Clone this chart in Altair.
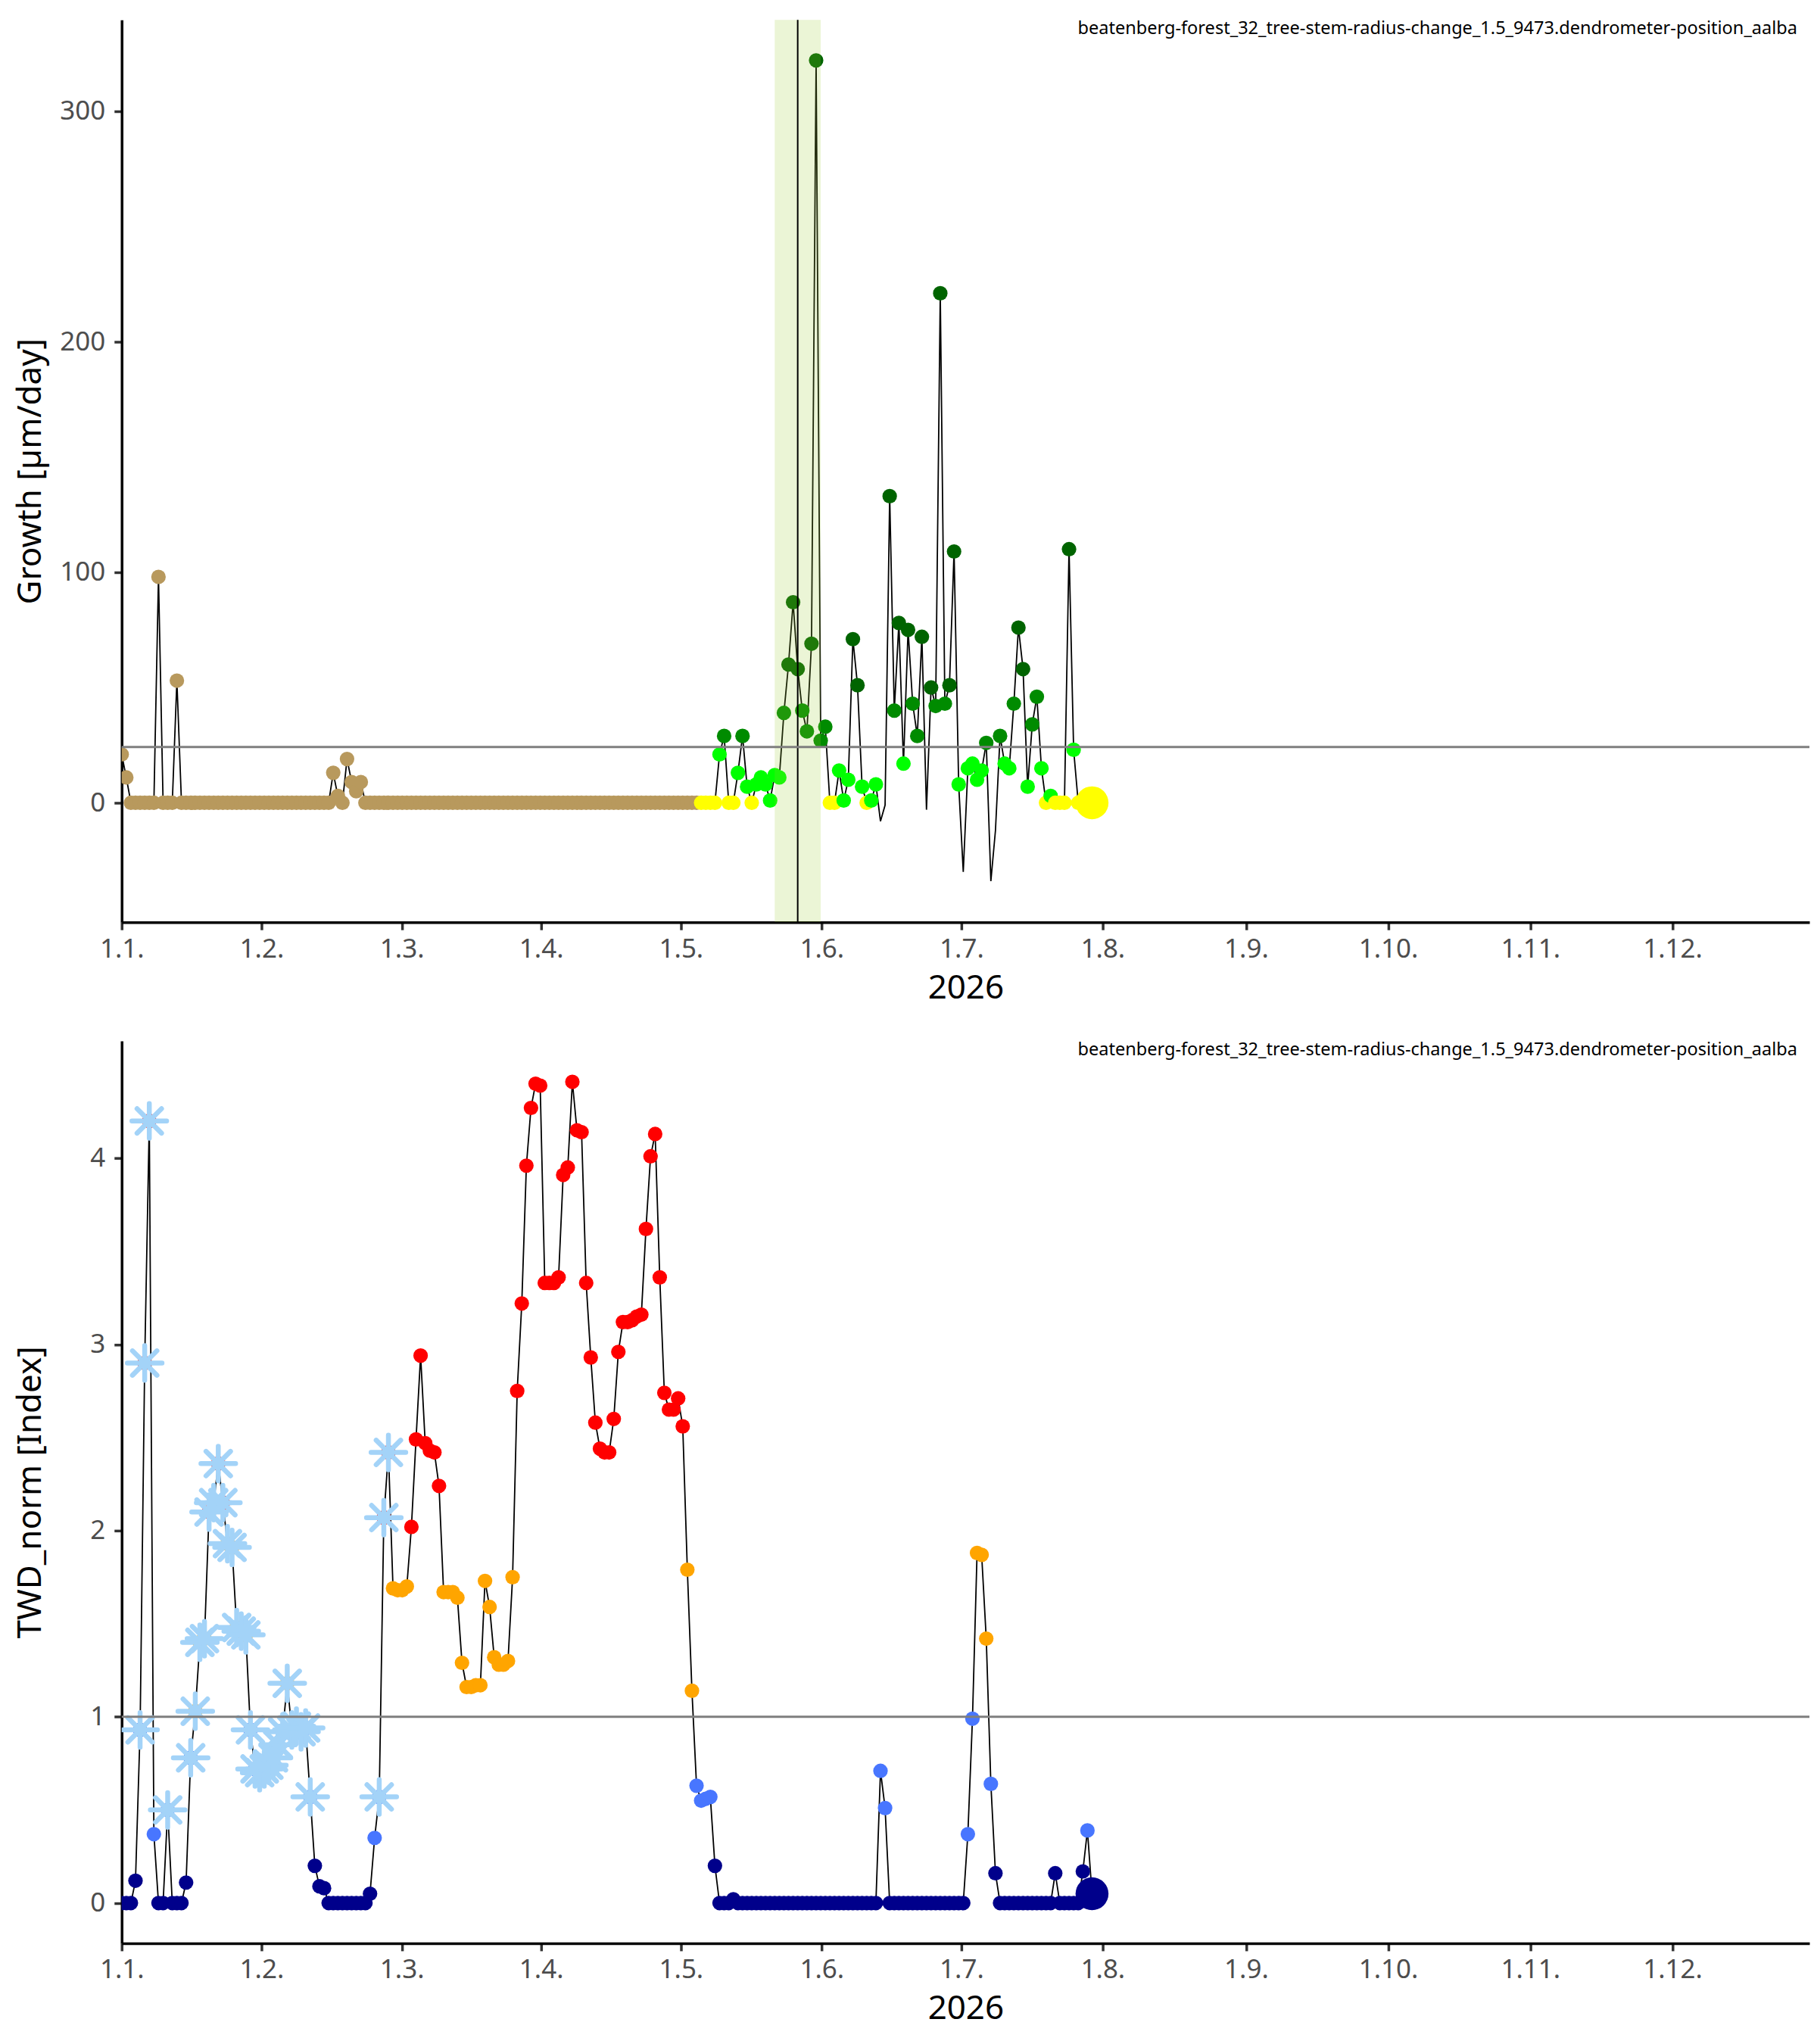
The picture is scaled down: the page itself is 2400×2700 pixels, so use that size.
import altair as alt
import pandas as pd

# ---------------- data ----------------
n_days = 212  # 1 Jan .. 31 Jul, daily
days = list(range(n_days))

growth = (
    [21, 11, 0, 0, 0, 0, 0, 0, 98, 0, 0, 0, 53]
    + [0] * 33
    + [13, 3, 0, 19, 9, 5, 9]
    + [0] * 73
    + [0, 0, 0, 0]
    + [21, 29, 0, 0, 13, 29, 7, 0, 8, 11, 8, 1, 12, 11,
       39, 60, 87, 58, 40, 31, 69, 322, 27, 33, 0, 0, 14, 1, 10, 71,
       51, 7, 0, 1, 8, -8, -1, 133, 40, 78, 17, 75, 43, 29, 72, -3,
       50, 42, 221, 43, 51, 109, 8, -30, 15, 17, 10, 14, 26, -34, -12,
       29, 17, 15, 43, 76, 58, 7, 34, 46, 15, 0, 3, 0, 0, 0, 110, 23,
       0, 0, 0, 0]
)

twd = (
    [0, 0, 0, 0.12, 0.93, 2.90, 4.20, 0.37, 0, 0, 0.50, 0, 0, 0, 0.11,
     0.78, 1.03, 1.40, 1.42, 2.10, 2.15, 2.36, 2.15, 1.93, 1.91, 1.48,
     1.46, 1.44, 0.93, 0.72, 0.70, 0.72, 0.74, 0.78, 0.85, 0.92, 1.18,
     0.93, 0.95, 0.92, 0.94, 0.57, 0.20, 0.09, 0.08]
    + [0] * 9
    + [0.05, 0.35, 0.57, 2.07, 2.42, 1.69, 1.68, 1.68, 1.70, 2.02, 2.49,
       2.94, 2.47, 2.43, 2.42, 2.24, 1.67, 1.67, 1.67, 1.64, 1.29, 1.16,
       1.16, 1.17, 1.17, 1.73, 1.59, 1.32, 1.28, 1.28, 1.30, 1.75, 2.75,
       3.22, 3.96, 4.27, 4.40, 4.39, 3.33, 3.33, 3.33, 3.36, 3.91, 3.95,
       4.41, 4.15, 4.14, 3.33, 2.93, 2.58, 2.44, 2.42, 2.42, 2.60, 2.96,
       3.12, 3.12, 3.13, 3.15, 3.16, 3.62, 4.01, 4.13, 3.36, 2.74, 2.65,
       2.65, 2.71, 2.56, 1.79, 1.14, 0.63, 0.55, 0.56, 0.57, 0.20,
       0, 0, 0, 0.02]
    + [0] * 31
    + [0.71, 0.51]
    + [0] * 17
    + [0.37, 0.99, 1.88, 1.87, 1.42, 0.64, 0.16]
    + [0] * 12
    + [0.16]
    + [0] * 5
    + [0.17, 0.39, 0.05]
)

frost_days = [4, 5, 6, 10] + list(range(15, 42)) + [56, 57, 58]
dormant_end = 125

growth_thresh = 24.2
twd_thresh = 1.0
window_start, window_end, window_mid = 142, 152, 147

tick_days = [0, 30.4, 60.9, 91.2, 121.6, 152.2, 182.6, 213.3, 244.5, 275.4, 306.3, 337.2]
tick_labels = ["1.1.", "1.2.", "1.3.", "1.4.", "1.5.", "1.6.", "1.7.", "1.8.",
               "1.9.", "1.10.", "1.11.", "1.12."]

source_label = "beatenberg-forest_32_tree-stem-radius-change_1.5_9473.dendrometer-position_aalba"

# ---------------- tables ----------------
def gcat(d, v):
    if v < 0:
        return None
    if d <= dormant_end:
        return "dormant"
    if v == 0:
        return "zero"
    if v < 24:
        return "low"
    if v < 48:
        return "mid"
    return "high"


def tcat(v):
    if v < 0.3:
        return "none"
    if v < 1:
        return "low"
    if v < 2:
        return "mid"
    return "high"


gdf = pd.DataFrame({"day": days, "growth": growth})
gdf["gcat"] = [gcat(d, v) for d, v in zip(days, growth)]
gpts = gdf[gdf["gcat"].notna()]
glast = gdf.tail(1)

tdf = pd.DataFrame({"day": days, "twd": twd})
tdf["tcat"] = [tcat(v) for v in twd]
tfrost = tdf[tdf["day"].isin(frost_days)]
tlast = tdf.tail(1)

W, H = 2233, 1194
FONT = "Noto Sans"
PT = 370
BIG = 1900

label_expr = "".join(
    f"datum.value < {t + 5} ? '{l}' : " for t, l in zip(tick_days, tick_labels)
) + "''"

xscale = alt.Scale(domain=[0, 367], nice=False, zero=False)
xaxis = alt.Axis(values=tick_days, labelExpr=label_expr, title="2026",
                 labelFlush=False, labelOverlap=False, labelPadding=8,
                 titlePadding=12)


def X(field):
    return alt.X(f"{field}:Q", scale=xscale, axis=xaxis, title="2026")


def yaxis(vals):
    return alt.Axis(values=vals, labelOverlap=False, labelPadding=12,
                    minExtent=88, maxExtent=88, titlePadding=10, labelFlush=False)


# ---------------- top panel ----------------
gys = alt.Scale(domain=[-51.8, 339.6], nice=False, zero=False)
gtitle = "Growth [µm/day]"


def GY(field):
    return alt.Y(f"{field}:Q", scale=gys, axis=yaxis([0, 100, 200, 300]), title=gtitle)


gcolor = alt.Color("gcat:N", scale=alt.Scale(
    domain=["dormant", "zero", "low", "mid", "high"],
    range=["#B8995D", "#FFFF00", "#00FF00", "#008B00", "#006400"]), legend=None)

g_line = alt.Chart(gdf).mark_line(color="black", strokeWidth=1.8, clip=True).encode(
    x=X("day"), y=GY("growth"))
g_pts = alt.Chart(gpts).mark_circle(size=PT, opacity=1, clip=True).encode(
    x=X("day"), y=GY("growth"), color=gcolor)
g_last = alt.Chart(glast).mark_circle(size=BIG, opacity=1, clip=True, color="#FFFF00").encode(
    x=X("day"), y=GY("growth"))
g_rect = alt.Chart(pd.DataFrame({"s": [window_start], "e": [window_end]})).mark_rect(
    color="#9ACD32", opacity=0.2).encode(
    x=X("s"), x2="e:Q", y=alt.value(0), y2=alt.value(H))
g_vline = alt.Chart(pd.DataFrame({"m": [window_mid]})).mark_rule(
    color="black", strokeWidth=2).encode(x=X("m"), y=alt.value(0), y2=alt.value(H))
g_hline = alt.Chart(pd.DataFrame({"h": [growth_thresh]})).mark_rule(
    color="#7F7F7F", strokeWidth=3).encode(y=GY("h"))
lab = pd.DataFrame({"t": [source_label]})
g_text = alt.Chart(lab).mark_text(font=FONT, fontSize=23.6, align="right", baseline="top",
                                   color="black").encode(
    x=alt.value(W - 16), y=alt.value(0), text="t:N")

top = alt.layer(g_line, g_pts, g_last, g_rect, g_vline, g_hline, g_text).properties(
    width=W, height=H)

# ---------------- bottom panel ----------------
tys = alt.Scale(domain=[-0.216, 4.63], nice=False, zero=False)
ttitle = "TWD_norm [Index]"


def TY(field):
    return alt.Y(f"{field}:Q", scale=tys, axis=yaxis([0, 1, 2, 3, 4]), title=ttitle)


tcolor = alt.Color("tcat:N", scale=alt.Scale(
    domain=["none", "low", "mid", "high"],
    range=["#00008B", "#4876FF", "#FFA500", "#FF0000"]), legend=None)

snow_path = ("M-1,0L1,0M0,-1L0,1M-0.707,-0.707L0.707,0.707"
             "M-0.707,0.707L0.707,-0.707")

t_line = alt.Chart(tdf).mark_line(color="black", strokeWidth=1.8, clip=True).encode(
    x=X("day"), y=TY("twd"))
t_pts = alt.Chart(tdf).mark_circle(size=PT, opacity=1, clip=True).encode(
    x=X("day"), y=TY("twd"), color=tcolor)
t_snow = alt.Chart(tfrost).mark_point(shape=snow_path, size=2100, filled=False,
                                       strokeWidth=6.5, strokeCap="round",
                                       color="#A3D3F8", opacity=1, clip=True).encode(
    x=X("day"), y=TY("twd"))
t_last = alt.Chart(tlast).mark_circle(size=BIG, opacity=1, clip=True, color="#00008B").encode(
    x=X("day"), y=TY("twd"))
t_hline = alt.Chart(pd.DataFrame({"h": [twd_thresh]})).mark_rule(
    color="#7F7F7F", strokeWidth=3).encode(y=TY("h"))
t_text = alt.Chart(lab).mark_text(font=FONT, fontSize=23.6, align="right", baseline="top",
                                   color="black").encode(
    x=alt.value(W - 16), y=alt.value(0), text="t:N")

bottom = alt.layer(t_line, t_pts, t_snow, t_last, t_hline, t_text).properties(
    width=W, height=H)

chart = alt.vconcat(top, bottom, spacing=48).resolve_scale(
    color="independent"
).properties(
    padding={"left": 11, "top": 15, "right": 0, "bottom": 5},
    background="white",
).configure_view(stroke=None).configure_axis(
    grid=False,
    domainColor="black", domainWidth=3.5,
    tickColor="#333333", tickWidth=3.5, tickSize=10,
    labelFont=FONT, labelFontSize=35, labelColor="#4D4D4D",
    titleFont=FONT, titleFontSize=44, titleFontWeight="normal", titleColor="black",
)

chart.save("out.html", embed_options={"renderer": "svg", "actions": False})
